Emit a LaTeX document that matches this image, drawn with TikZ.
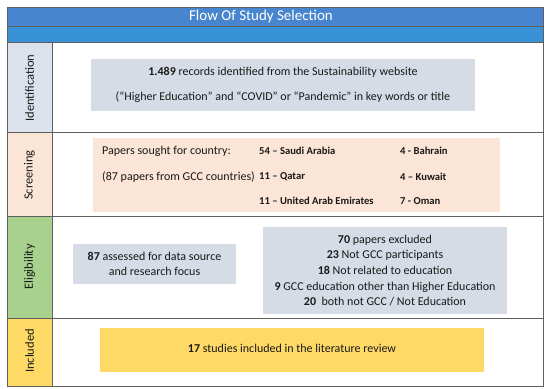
\documentclass[tikz,border=0pt]{standalone}
\usepackage{fontspec}
\setmainfont{Carlito}
\definecolor{titleblue}{RGB}{72,133,207}
\definecolor{bandblue}{RGB}{58,146,214}
\definecolor{idgray}{RGB}{220,226,236}
\definecolor{boxgray}{RGB}{214,220,229}
\definecolor{peach}{RGB}{251,229,214}
\definecolor{leafgreen}{RGB}{169,209,142}
\definecolor{gold}{RGB}{255,217,102}
\definecolor{rulegray}{RGB}{95,95,95}
\tikzset{
  stagebox/.style={fill=#1, inner sep=0pt, align=center},
  cntry/.style={anchor=west, inner sep=0pt, font=\fontsize{10.6}{12}\selectfont\bfseries}
}
\begin{document}
\begin{tikzpicture}[x=1pt, y=-1pt, every node/.style={font=\fontsize{12}{15.7}\selectfont, text=black!90}]
  \useasboundingbox (0,0) rectangle (550,389);
  \fill[white] (0,0) rectangle (550,389);
  % header
  \fill[titleblue] (7,7) rectangle (543,26);
  \fill[bandblue] (7,26) rectangle (543,42);
  \draw[rulegray] (7,26) -- (543,26);
  \draw[rulegray] (7,7) rectangle (543,42);
  \node[text=white, font=\fontsize{15}{16}\selectfont] (title) at (261,16.5) {Flow Of Study Selection};
  % stage column
  \fill[idgray] (7,42) rectangle (52,132);
  \fill[peach] (7,132) rectangle (52,216);
  \fill[leafgreen] (7,216) rectangle (52,318);
  \fill[gold] (7,318) rectangle (52,386);
  \foreach \y/\lab/\n in {88/Identification/lid,175/Screening/lsc,267/Eligibility/lel,351/Included/lin}
    \node[rotate=90, font=\fontsize{12.5}{14}\selectfont] (\n) at (29.5,\y) {\lab};
  \draw[rulegray] (7,42) rectangle (543,386);
  \draw[rulegray] (52,42) -- (52,386);
  \foreach \y in {132,216,318} \draw[rulegray] (7,\y) -- (543,\y);
  % boxes
  \node[stagebox=boxgray, minimum width=384, minimum height=52] (ident) at (283,85)
    {\textbf{1.489} records identified from the Sustainability website\\[9pt]
     (“Higher Education” and “COVID” or “Pandemic” in key words or title};
  \node[stagebox=peach, minimum width=407, minimum height=74] (screen) at (296.5,175) {};
  \node[anchor=west, inner sep=0pt] (sought) at (102,151) {Papers sought for country:};
  \node[anchor=west, inner sep=0pt] (gcc) at (102,177) {(87 papers from GCC countries)};
  \foreach \x/\y/\lab/\n in {259/151/54 – Saudi Arabia/sa, 259/177/11 – Qatar/qa, 259/201/11 – United Arab Emirates/uae,
                            400/151/4 - Bahrain/bh, 400/177/4 – Kuwait/kw, 400/201/7 - Oman/om}
    \node[cntry] (\n) at (\x,\y) {\lab};
  \node[stagebox=boxgray, minimum width=163, minimum height=40] (assess) at (154.5,264)
    {\textbf{87} assessed for data source\\and research focus};
  \node[stagebox=boxgray, minimum width=244, minimum height=87] (excl) at (385,270.5)
    {\textbf{70} papers excluded\\\textbf{23} Not GCC participants\\\textbf{18} Not related to education\\
     \textbf{9} GCC education other than Higher Education\\\textbf{20}\ \ both not GCC / Not Education};
  \node[stagebox=gold, minimum width=384, minimum height=44] (incl) at (292,350)
    {\raisebox{3pt}{\textbf{17} studies included in the literature review}};
\end{tikzpicture}
\end{document}
